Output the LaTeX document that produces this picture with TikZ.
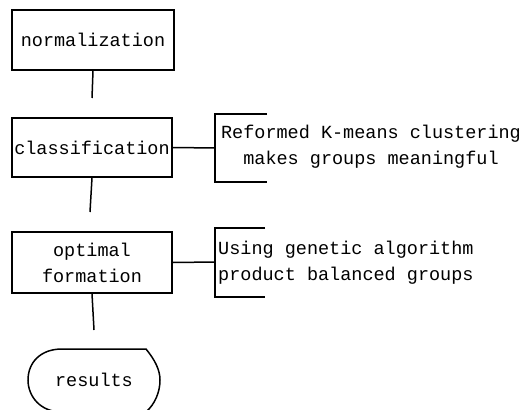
\documentclass[tikz,border=0pt]{standalone}
\usepackage{fontspec}
\setmainfont{Liberation Mono}
\begin{document}
\begin{tikzpicture}[x=1pt,y=-1pt,
  every node/.style={font=\fontsize{18.5}{26}\selectfont, inner sep=0pt},
  box/.style={draw, line width=1.5pt, align=center},
  ln/.style={line width=1.5pt},
  lbl/.style={align=left}]
\useasboundingbox (0,0) rectangle (529,409);
\node[box, minimum width=162pt, minimum height=60pt] (norm) at (93,40) {normalization};
\node[box, minimum width=160pt, minimum height=59pt] (class) at (92,147.5) {classification};
\node[box, minimum width=160pt, minimum height=61pt] (opt) at (92,262.5) {optimal\\formation};
\node (res) at (94,380) {results};
\coordinate (n1) at (92,98);
\coordinate (c1) at (90,212);
\coordinate (o1) at (94,330);
\draw[ln] (norm.south) -- (n1);
\draw[ln] (class.south) -- (c1);
\draw[ln] (opt.south) -- (o1);
% bracket 1
\coordinate (b1) at (215,148);
\draw[ln] (class.east) -- (b1);
\draw[ln] (267,114) -- (215,114) -- (215,182) -- (267,182);
\node[align=center] (t1) at (371,147) {Reformed K-means clustering\\makes groups meaningful};
% bracket 2
\coordinate (b2) at (215,262);
\draw[ln] (opt.east) -- (b2);
\draw[ln] (265,228) -- (215,228) -- (215,297) -- (265,297);
\node[lbl, anchor=west] (t2) at (218,263) {Using genetic algorithm\\product balanced groups};
% results outline
\draw[ln] (62,349) -- (146,349) .. controls (155,360) and (160,370) .. (160,380)
  .. controls (160,392) and (155,404) .. (146,412) -- (62,412)
  .. controls (40,412) and (28,396) .. (28,380)
  .. controls (28,363) and (40,349) .. (62,349) -- cycle;
\end{tikzpicture}
\end{document}
